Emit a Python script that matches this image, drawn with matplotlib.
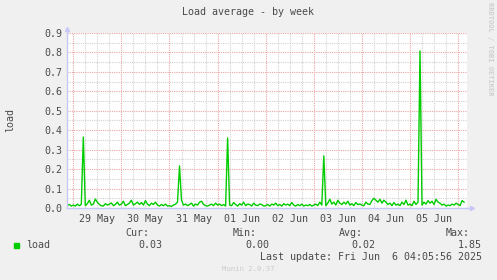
import matplotlib
matplotlib.use("Agg")
import matplotlib.pyplot as plt
import numpy as np

# ── Data: hourly load samples, hours counted from 29 May 00:00 ──────────────
hours_start = -3
load_pre = [0.012, 0.018, 0.010]
load_may29 = [0.015, 0.010, 0.020, 0.012, 0.018, 0.365, 0.012, 0.022, 0.040, 0.015, 0.020, 0.046,
              0.030, 0.018, 0.012, 0.010, 0.022, 0.015, 0.020, 0.026, 0.012, 0.018, 0.030, 0.015]
load_may30 = [0.020, 0.035, 0.012, 0.018, 0.025, 0.040, 0.015, 0.022, 0.030, 0.018, 0.028, 0.015,
              0.038, 0.020, 0.012, 0.025, 0.018, 0.030, 0.015, 0.010, 0.018, 0.012, 0.020, 0.010]
load_may31 = [0.012, 0.008, 0.015, 0.020, 0.030, 0.216, 0.040, 0.015, 0.020, 0.012, 0.018, 0.025,
              0.010, 0.020, 0.015, 0.030, 0.035, 0.018, 0.012, 0.010, 0.015, 0.020, 0.012, 0.025]
load_jun01 = [0.015, 0.020, 0.012, 0.018, 0.010, 0.360, 0.015, 0.012, 0.028, 0.018, 0.010, 0.022,
              0.015, 0.030, 0.012, 0.020, 0.018, 0.010, 0.025, 0.015, 0.012, 0.020, 0.018, 0.010]
load_jun02 = [0.012, 0.018, 0.010, 0.020, 0.015, 0.025, 0.012, 0.018, 0.010, 0.022, 0.015, 0.020,
              0.012, 0.028, 0.015, 0.010, 0.018, 0.012, 0.020, 0.010, 0.015, 0.012, 0.018, 0.010]
load_jun03 = [0.015, 0.020, 0.012, 0.030, 0.015, 0.268, 0.012, 0.025, 0.045, 0.020, 0.030, 0.015,
              0.040, 0.025, 0.018, 0.030, 0.020, 0.035, 0.015, 0.022, 0.012, 0.028, 0.018, 0.020]
load_jun04 = [0.015, 0.012, 0.030, 0.020, 0.018, 0.038, 0.050, 0.040, 0.030, 0.045, 0.025, 0.040,
              0.030, 0.018, 0.025, 0.012, 0.028, 0.015, 0.020, 0.012, 0.030, 0.018, 0.040, 0.015]
load_jun05 = [0.020, 0.012, 0.035, 0.018, 0.030, 0.808, 0.015, 0.030, 0.020, 0.038, 0.025, 0.035,
              0.018, 0.045, 0.030, 0.025, 0.015, 0.020, 0.010, 0.015, 0.012, 0.020, 0.015, 0.025]
load_jun06 = [0.018, 0.012, 0.038, 0.030]

day_labels = ["29 May", "30 May", "31 May", "01 Jun", "02 Jun", "03 Jun", "04 Jun", "05 Jun"]
y_ticks = [0.0, 0.1, 0.2, 0.3, 0.4, 0.5, 0.6, 0.7, 0.8, 0.9]
legend_stats = {"Cur:": "0.03", "Min:": "0.00", "Avg:": "0.02", "Max:": "1.85"}

load = (load_pre + load_may29 + load_may30 + load_may31 + load_jun01
        + load_jun02 + load_jun03 + load_jun04 + load_jun05 + load_jun06)
hours = np.arange(hours_start, hours_start + len(load))

# ── Style ───────────────────────────────────────────────────────────────────
BG = "#F0F0F0"
TXT = "#4a4a4a"
GREEN = "#00CC00"
MGRID = "#EBA5A5"
GRID = "#D2D2D2"
AXIS = "#C8C8F8"
FONT = "DejaVu Sans Mono"
FS = 7.2

W, H = 497, 280
fig = plt.figure(figsize=(W / 100, H / 100), dpi=100, facecolor=BG)
ax = fig.add_axes([67 / W, 72 / H, 400 / W, 175 / H])
ax.set_facecolor("white")

x_lo, x_hi = -3.14, 196.45
ax.set_xlim(x_lo, x_hi)
ax.set_ylim(0, 0.9)

# grid
dot = (0, (1, 1))
for h in np.arange(-0.0, x_hi, 6):
    if h % 24:
        ax.axvline(h, color=GRID, lw=0.8, ls=dot, zorder=1)
for v in np.arange(0.05, 0.9, 0.1):
    ax.axhline(v, color=GRID, lw=0.8, ls=dot, zorder=1)
for h in np.arange(0, x_hi, 24):
    ax.axvline(h, color=MGRID, lw=0.8, ls=dot, zorder=2)
for v in y_ticks[1:]:
    ax.axhline(v, color=MGRID, lw=0.8, ls=dot, zorder=2)

ax.plot(hours, load, color=GREEN, lw=1.0, zorder=3)

# ticks
ax.set_yticks(y_ticks)
ax.set_yticklabels([f"{v:.1f}" for v in y_ticks], fontfamily=FONT, fontsize=FS, color=TXT)
ax.set_xticks([12 + 24 * i for i in range(len(day_labels))])
ax.set_xticklabels(day_labels, fontfamily=FONT, fontsize=FS, color=TXT)
ax.tick_params(axis="both", length=0, pad=3)
ax.tick_params(axis="x", pad=4)

for s in ("top", "right"):
    ax.spines[s].set_visible(False)
for s in ("left", "bottom"):
    ax.spines[s].set_color(AXIS)
    ax.spines[s].set_linewidth(1.0)
    ax.spines[s].set_zorder(4)

# axis arrows
ax.plot([0, 0], [1, 1.02], color=AXIS, lw=1, transform=ax.transAxes, clip_on=False)
ax.plot([0], [1.025], marker="^", ms=3, color=AXIS, transform=ax.transAxes, clip_on=False)
ax.plot([1, 1.01], [0, 0], color=AXIS, lw=1, transform=ax.transAxes, clip_on=False)
ax.plot([1.012], [0], marker=">", ms=3, color=AXIS, transform=ax.transAxes, clip_on=False)

# texts
def ftext(x, y, s, ha="left", **kw):
    kw.setdefault("fontsize", FS)
    kw.setdefault("color", TXT)
    fig.text(x / W, 1 - y / H, s, ha=ha, va="center", fontfamily=FONT, **kw)

ftext(248, 12, "Load average - by week", ha="center")
fig.text(10 / W, 1 - 120 / H, "load", rotation=90, ha="center", va="center",
         fontfamily=FONT, fontsize=FS, color=TXT)
fig.text(490 / W, 1 - 49 / H, "RRDTOOL / TOBI OETIKER", rotation=270, ha="center",
         va="center", fontfamily=FONT, fontsize=5.0, color="#CFCFCF", fontweight="bold")

fig.patches.append(plt.Rectangle((14 / W, 1 - 248 / H), 5 / W, 5 / H,
                                 transform=fig.transFigure, color=GREEN))
ftext(26, 245, "load")

header_x = [149, 257, 363, 470]
value_x = [162, 269, 375, 482]
for (hdr, val), hx, vx in zip(legend_stats.items(), header_x, value_x):
    ftext(hx, 233, hdr, ha="right")
    ftext(vx, 245, val, ha="right")

ftext(482, 257, "Last update: Fri Jun  6 04:05:56 2025", ha="right")
ftext(248, 269, "Munin 2.0.37", ha="center", fontsize=5.2, color="#CCCCCC")

fig.savefig("out.png", dpi=100, facecolor=BG)
